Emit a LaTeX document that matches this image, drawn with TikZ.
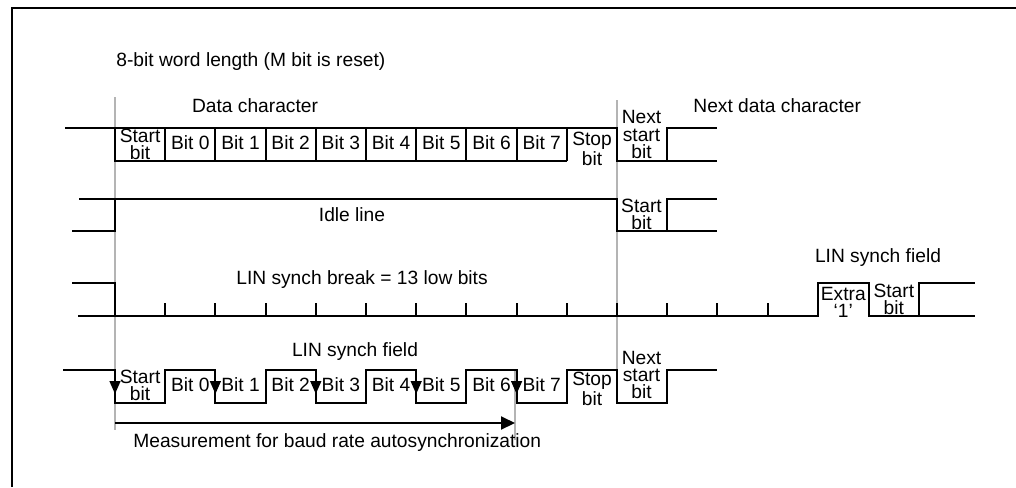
\documentclass[tikz,border=0pt]{standalone}
\usepackage{fontspec}
\setmainfont{Liberation Sans}
\usetikzlibrary{arrows.meta}
\definecolor{Ink}  {HTML}{000000}
\definecolor{LGray}{HTML}{B4B4B4}
\tikzset{
  sig/.style={
    draw=Ink, line width=1pt, line join=miter,
  },
  gline/.style={
    draw=LGray, line width=0.8pt,
  },
  frm/.style={
    draw=Ink, line width=1.4pt,
  },
  txt/.style={
    font=\fontsize{9.6}{9}\selectfont, text=Ink,
    inner sep=0pt, align=center,
  },
  % two-line labels in a bit slot
  slot/.style={
    txt, font=\fontsize{9.6}{#1}\selectfont,
  },
  dn/.style={
    -{Triangle[length=6.5pt,width=5.4pt]},
    draw=Ink, line width=1pt,
  },
  meas/.style={
    -{Triangle[length=7pt,width=6.5pt]},
    draw=Ink, line width=1pt,
  },
}
\begin{document}
\begin{tikzpicture}[x=0.5pt,y=-0.5pt]
  \useasboundingbox (0,0) rectangle (1016,487);
  \draw[frm] (12,487) -- (12,8) -- (1016,8);

  % markers
  \draw[gline] (115,97) -- (115,430);
  \draw[gline] (617,100) -- (617,395);
  \draw[gline] (515,370) -- (515,440);

  \node[txt,anchor=west](ttl) at (116,62) {8-bit word length (M bit is reset)};

  % data character
  \node[txt](dch)  at (255,106) {Data character};
  \node[txt,anchor=west](ndch) at (693,106) {Next data character};
  \draw[sig] (65,128) -- (115,128) -- (115,161) -- (566.8,161);
  \draw[sig] (115,128) -- (617,128) -- (617,161) -- (717.4,161);
  \draw[sig] (667.2,161) -- (667.2,128) -- (717.4,128);
  \foreach \k in {1,...,9} \draw[sig] ({115+50.2*\k},128) -- ++(0,33);
  \node[slot=8.4pt](st1) at (140.1,144) {Start\\bit};
  \foreach \i in {0,...,7} \node[txt](b1\i) at ({190.3+50.2*\i},143) {Bit \i};
  \node[slot=7pt](sp1) at (592,148.5) {Stop\\bit};
  \node[slot=8.6pt](ns1) at (641.5,134.5) {Next\\start\\bit};

  % idle line
  \draw[sig] (79,199) -- (617,199) -- (617,231) -- (717.4,231);
  \draw[sig] (72,231) -- (115,231) -- (115,199);
  \draw[sig] (667.2,231) -- (667.2,199) -- (717.4,199);
  \node[txt](idl) at (352,215) {Idle line};
  \node[slot=8.6pt](st2) at (641.5,214.5) {Start\\bit};

  % LIN break
  \draw[sig] (72,283) -- (115,283) -- (115,316);
  \draw[sig] (78,316) -- (818,316) -- (818,283) -- (868.6,283) -- (868.6,316) -- (975,316);
  \draw[sig] (919,316) -- (919,283) -- (975,283);
  \foreach \k in {1,...,13} \draw[sig] ({115+50.2*\k},316) -- ++(0,-13);
  \node[txt](brk) at (362,280) {LIN synch break = 13 low bits};
  \node[txt](lsf3) at (878,258) {LIN synch field};
  \node[slot=8.6pt](ext) at (843.3,302) {Extra\\‘1’};
  \node[slot=8.6pt](st3) at (893.8,299) {Start\\bit};

  % LIN synch field
  \draw[sig] (63,370) -- (115,370) -- (115,403) -- (165.2,403) -- (165.2,370)
    -- (215.4,370) -- (215.4,403) -- (265.6,403) -- (265.6,370)
    -- (315.8,370) -- (315.8,403) -- (366,403) -- (366,370)
    -- (416.2,370) -- (416.2,403) -- (466.4,403) -- (466.4,370)
    -- (516.6,370) -- (516.6,403) -- (566.8,403) -- (566.8,370)
    -- (617,370) -- (617,403) -- (667.2,403) -- (667.2,370) -- (717.4,370);
  \foreach \x in {115,215.4,315.8,416.2,516.6} \draw[dn] (\x,372) -- (\x,394);
  \node[txt](lsf4) at (355,352) {LIN synch field};
  \node[slot=8.4pt](st4) at (140.1,385.5) {Start\\bit};
  \foreach \i in {0,...,7} \node[txt](b4\i) at ({190.3+50.2*\i},385) {Bit \i};
  \node[slot=7pt](sp4) at (592,388.5) {Stop\\bit};
  \node[slot=8.6pt](ns4) at (641.5,375) {Next\\start\\bit};

  \coordinate (ms) at (115,423);
  \coordinate (me) at (515,423);
  \draw[meas] (ms) -- (me);
  \node[txt,anchor=west](mtx) at (133,443) {Measurement for baud rate autosynchronization};
\end{tikzpicture}
\end{document}
